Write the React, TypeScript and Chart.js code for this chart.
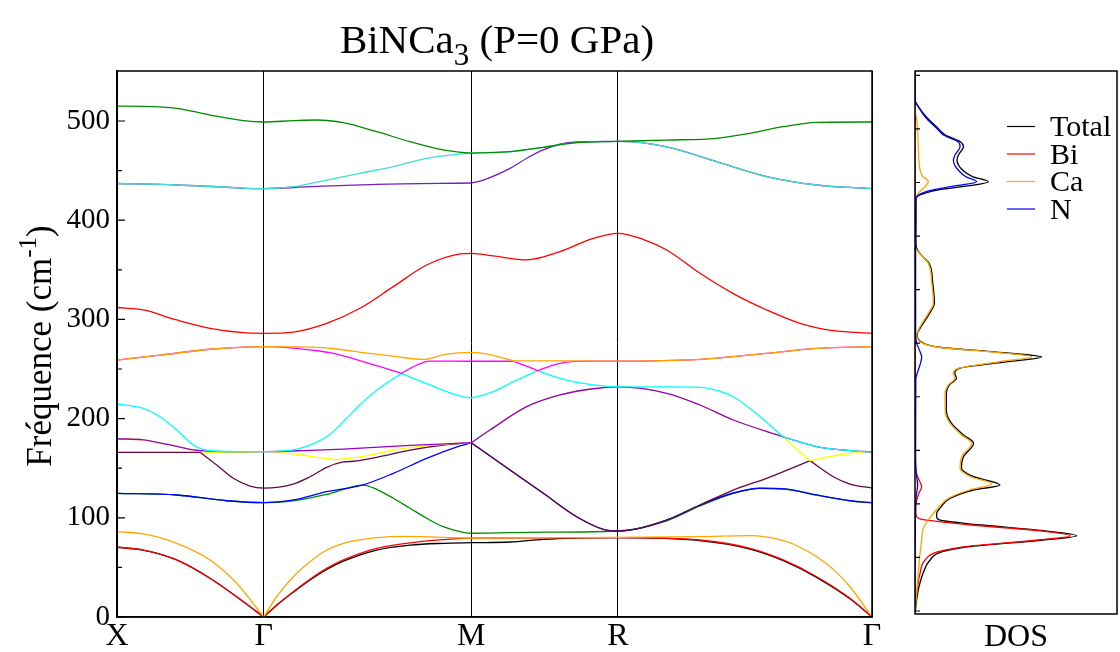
import React, { useEffect, useRef } from 'react';
import { Chart, registerables } from 'chart.js';

Chart.register(...registerables);

const FONT = '"Liberation Serif", "Times New Roman", serif';

// High-symmetry path (k distance, 2π/a units)
const HS_K = [0, 0.5, 1.2071, 1.7071, 2.5731];
const HS_LABELS = ['X', 'Γ', 'M', 'R', 'Γ'];
const FREQ_TICKS = [0, 100, 200, 300, 400, 500];
const FREQ_MINOR = [50, 150, 250, 350, 450];
const DOS_TICKS = [6, 60, 114, 168, 222, 276, 330, 384, 438, 492, 546];

const BAND_COLORS = [
  '#000000', '#ff0000', '#ffa500', '#008b00', '#0000ff',
  '#670748', '#ffff00', '#9400d3', '#00ffff', '#ff00ff',
  '#ffa500', '#ff0000', '#7221bc', '#40e0d0', '#008b00',
];

// Each band: list of smooth pieces (split only at kinks), each a list of [k, frequency (cm-1)]
const band01 = [
  [[0, 70.3], [0.0897, 67.5], [0.2034, 57.5], [0.317, 39], [0.4306, 15.4], [0.5, 0]],
  [[0.5, 0], [0.5442, 11.8], [0.601, 25], [0.6578, 37.3], [0.7147, 48], [0.7714, 56.3], [0.8851, 67.5], [0.9986, 72.5], [1.1121, 74.3], [1.2071, 74.9], [1.3394, 75.6], [1.4529, 78.3], [1.5667, 79.6], [1.7071, 80], [1.9869, 77], [2.1573, 68.5], [2.2708, 56.8], [2.3846, 40], [2.4981, 18.3], [2.5731, 0]],
];
const band02 = [
  [[0, 70.3], [0.0897, 67.5], [0.2034, 57.5], [0.317, 39], [0.4306, 15.4], [0.5, 0]],
  [[0.5, 0], [0.5442, 12.1], [0.601, 25.5], [0.6578, 38], [0.7147, 49], [0.7714, 57.5], [0.8851, 69.2], [0.9986, 74.8], [1.1121, 78], [1.2071, 79.6], [1.4529, 79.8], [1.7071, 80], [1.9869, 77.6], [2.1573, 69.2], [2.2708, 57.5], [2.3846, 40.6], [2.4981, 18.8], [2.5731, 0]],
];
const band03 = [
  [[0, 86], [0.0897, 83.7], [0.2034, 74.3], [0.317, 57.5], [0.4079, 34], [0.5, 0]],
  [[0.5, 0], [0.5442, 20.5], [0.601, 40.6], [0.6578, 55.7], [0.7147, 67.5], [0.7714, 74.3], [0.8851, 80], [0.9986, 81.3], [1.1121, 80.3], [1.2071, 79.6], [1.4529, 80], [1.7071, 80.2], [1.9869, 81], [2.1573, 82], [2.2708, 76.9], [2.3278, 70.3], [2.3846, 60.8], [2.4412, 48], [2.4981, 30.5], [2.5731, 0]],
];
const band04 = [
  [[0, 124.7], [0.2034, 123], [0.3738, 117.2], [0.5, 115.2], [0.601, 117.2], [0.7147, 123.7], [0.8394, 133], [0.8851, 128.7], [0.9417, 119.7], [0.9986, 109.6], [1.0555, 99.5], [1.1121, 91], [1.169, 86], [1.2071, 84.4], [1.4529, 85.5], [1.7071, 86.7], [1.8735, 97], [1.9869, 112], [2.1004, 124.7], [2.1914, 129.6], [2.2822, 128.8], [2.3846, 122.8], [2.4981, 117], [2.5731, 115]],
];
const band05 = [
  [[0, 124.7], [0.2034, 123], [0.3738, 117.2], [0.5, 115.2], [0.601, 118], [0.7147, 126.3], [0.8394, 133.3], [0.9417, 144.8], [1.0555, 160], [1.169, 172.4], [1.2071, 175.7]],
  [[1.2071, 175.7], [1.3394, 148.2], [1.4529, 124.7], [1.5667, 101.1], [1.6574, 88.4], [1.7071, 86.7], [1.8735, 97.8], [1.9869, 112.9], [2.1004, 125], [2.1914, 129.8], [2.2822, 129], [2.3846, 123], [2.4981, 117.2], [2.5731, 115.2]],
];
const band06 = [
  [[0, 166], [0.1466, 166], [0.2829, 166]],
  [[0.2829, 166], [0.3397, 153.2], [0.3965, 139.8], [0.4533, 132], [0.5, 130], [0.601, 134], [0.6578, 141.4], [0.7147, 150.9], [0.7714, 156.3], [0.8054, 157], [0.8851, 161], [0.9986, 168.3], [1.1121, 173.4], [1.2071, 175.7]],
  [[1.2071, 175.7], [1.3394, 148.2], [1.4529, 124.7], [1.5667, 101.1], [1.6574, 88.4], [1.7071, 86.7], [1.8735, 97.8], [1.9869, 112.9], [2.1004, 128], [2.2142, 139.8], [2.2708, 146.5], [2.3618, 157.6]],
  [[2.3618, 157.6], [2.4412, 141.4], [2.4981, 134], [2.5731, 130]],
];
const band07 = [
  [[0, 179.7], [0.0897, 178.5], [0.1466, 175.5], [0.2034, 172], [0.2602, 168.5], [0.2829, 167.2], [0.317, 165.8], [0.4306, 165.8], [0.5, 166.7], [0.601, 164.5], [0.6578, 162], [0.749, 158.5]],
  [[0.749, 158.5], [0.8394, 162], [0.9532, 168.8], [1.1121, 174], [1.2071, 175.7]],
  [[1.2071, 175.7], [1.2712, 188.5], [1.3963, 212], [1.5098, 223.8], [1.6233, 230.1], [1.7071, 231.9], [1.8735, 225.5], [1.9869, 213.7], [2.1004, 198.6], [2.2687, 181.8]],
  [[2.2687, 181.8], [2.3618, 157.6]],
  [[2.3618, 157.6], [2.4412, 162.3], [2.4981, 164.8], [2.5731, 166.7]],
];
const band08 = [
  [[0, 179.7], [0.0897, 178.5], [0.1466, 175.5], [0.2034, 172], [0.2602, 168.5], [0.2829, 167.8], [0.3738, 166.8], [0.5, 166.7], [0.6578, 168], [0.7714, 169.3], [0.9986, 173], [1.2071, 175.7]],
  [[1.2071, 175.7], [1.2712, 188.5], [1.3963, 212], [1.5098, 223.8], [1.6233, 230.1], [1.7071, 231.9], [1.8735, 225.5], [1.9869, 213.7], [2.1004, 198.6], [2.2687, 181.8]],
  [[2.2687, 181.8], [2.3846, 171.7], [2.4981, 167.7], [2.5731, 166.5]],
];
const band09 = [
  [[0, 214.7], [0.0897, 210.4], [0.1466, 201.9], [0.2034, 188.5], [0.2602, 173.4], [0.2829, 170], [0.317, 167.6], [0.4079, 166.8], [0.5, 166.7], [0.57, 167.4], [0.62, 169.8], [0.6578, 173.3], [0.69, 177.5], [0.7259, 184], [0.7543, 191.8], [0.7829, 200.3], [0.8394, 217], [0.8963, 231], [0.9703, 245.6]],
  [[0.9703, 245.6], [1.0099, 240.6], [1.0667, 233.9], [1.1236, 227.1], [1.1803, 222], [1.2071, 221], [1.2384, 223], [1.2825, 227.1], [1.3506, 237.2], [1.4338, 248.3]],
  [[1.4338, 248.3], [1.5098, 240.6], [1.5551, 237.2], [1.6233, 233.9], [1.7071, 231.9], [1.8735, 231.9], [1.9869, 231.5], [2.0438, 228.5], [2.1004, 222], [2.1914, 202], [2.2687, 181.8]],
  [[2.2687, 181.8], [2.3846, 171.7], [2.4981, 167.7], [2.5731, 166.3]],
];
const band10 = [
  [[0, 259], [0.1466, 264], [0.317, 269.9], [0.5, 272.5], [0.601, 271], [0.6578, 269.2], [0.7259, 266.4], [0.8394, 257.4], [0.9703, 245.6]],
  [[0.9703, 245.6], [1.0099, 252.3], [1.0667, 258], [1.2071, 257.8], [1.3, 257.8], [1.3506, 257.8]],
  [[1.3506, 257.8], [1.3963, 252.8], [1.4338, 248.3]],
  [[1.4338, 248.3], [1.487, 254], [1.5551, 257.6], [1.6233, 258], [1.7071, 258], [1.9869, 259.8], [2.2142, 265.8], [2.3846, 270.8], [2.5731, 272.5]],
];
const band11 = [
  [[0, 259], [0.1466, 264], [0.317, 269.9], [0.5, 272.5], [0.601, 272.3], [0.6578, 272], [0.7259, 270.9], [0.8394, 266.4], [0.9532, 262.4], [1.0441, 259.6], [1.1236, 265], [1.2071, 266.8], [1.2712, 264.5], [1.3506, 258.2]],
  [[1.3506, 258.2], [1.5098, 258.1], [1.7071, 258], [1.9869, 259.8], [2.2142, 265.8], [2.3846, 270.8], [2.5731, 272.5]],
];
const band12 = [
  [[0, 312], [0.0897, 309.5], [0.2034, 299.4], [0.317, 291], [0.4306, 286.6], [0.5, 286], [0.601, 287.2], [0.7147, 296], [0.8282, 311.2], [0.9417, 333], [1.0555, 354.8], [1.169, 366], [1.2071, 366.6], [1.2825, 364], [1.3963, 360], [1.5098, 368.3], [1.6233, 381.7], [1.7071, 386.8], [1.79, 381], [1.8735, 370], [1.9869, 346.5], [2.1004, 326], [2.2142, 309.5], [2.3278, 296], [2.4412, 288.6], [2.5731, 286]],
];
const band13 = [
  [[0, 437], [0.2034, 435.5], [0.3738, 433.2], [0.5, 431.8], [0.6578, 433.8], [0.8851, 436.2], [1.2071, 437.5]],
  [[1.2071, 437.5], [1.2484, 440.5], [1.3394, 452.3], [1.3963, 462.4], [1.4529, 470.8], [1.5098, 476.8], [1.5667, 479], [1.7071, 479.5], [1.8735, 474], [2.0438, 459], [2.2142, 444], [2.3846, 435.5], [2.5731, 431.8]],
];
const band14 = [
  [[0, 437], [0.2034, 435.5], [0.3738, 433.2], [0.5, 431.8], [0.601, 433.8], [0.7147, 440.5], [0.8282, 447.3], [0.9417, 454], [1.0555, 462.4], [1.2071, 467.7], [1.3394, 469], [1.4529, 473.5], [1.5667, 478.2], [1.7071, 479.5], [1.8735, 474], [2.0438, 459], [2.2142, 444], [2.3846, 435.5], [2.5731, 431.8]],
];
const band15 = [
  [[0, 515], [0.0897, 514.8], [0.2034, 512.8], [0.317, 506], [0.4306, 500.3], [0.5, 499], [0.601, 500.3], [0.6806, 501], [0.7714, 498.3], [0.8851, 489.2], [0.9986, 479.2], [1.1121, 470.8], [1.2071, 467.7], [1.3394, 469.1], [1.4529, 473.5], [1.5667, 478.2], [1.7071, 479.5], [1.8735, 480.8], [2.0438, 482.5], [2.1573, 487.6], [2.2708, 494.3], [2.3846, 498.7], [2.5731, 499]],
];
const BANDS = [band01, band02, band03, band04, band05, band06, band07, band08, band09, band10, band11, band12, band13, band14, band15];

// DOS: [frequency (cm-1), DOS (arb. units)]
const DOS_TOTAL = [
  [3, 0], [17, 0.8], [30.5, 2], [44, 4], [57.5, 7.5], [65.8, 13.5], [71.6, 30], [77.6, 63.5], [82, 80], [87, 63.5], [92.7, 33], [97.8, 12], [101, 10.7], [105, 10.8], [110, 12.5], [119.7, 17.5], [128, 29], [133.1, 42.1], [141.4, 29], [149.9, 23], [161.6, 24], [175.1, 29], [183.5, 24], [195.3, 18], [208.7, 15.5], [225.5, 15.5], [233.9, 17], [240.6, 20.5], [245.7, 19.7], [250.7, 22], [257.4, 46], [262, 62.7], [267.4, 38], [271.9, 12], [277.5, 3], [284.3, 1], [292.6, 3], [306.1, 7.2], [316.2, 9.6], [336.4, 8.8], [356.5, 7], [365, 3], [372, 0.8], [380, 0.4], [400, 0.5], [421, 0.5], [425.4, 2.5], [430.4, 11], [434.5, 26], [438.8, 36.3], [444, 28.5], [450.6, 23.5], [460.7, 20.8], [465.7, 21.5], [474.1, 24], [479.1, 22.5], [485.9, 15], [489.2, 13], [492.6, 11.5], [504.3, 5.5], [515, 1.5], [521, 0], [550, 0],
];
const DOS_BI = [
  [3, 0], [17.1, 0.3], [30.5, 1.3], [44, 2.5], [57.5, 5], [65.8, 11.5], [71.6, 28.1], [77.6, 61], [82, 76.7], [87, 61], [92.7, 28.1], [97.8, 5], [101.1, 0.8], [108, 0.3], [114.6, 0.5], [125, 2], [131.4, 3.3], [138, 2], [146.5, 0.5], [160, 0.2], [250, 0.1], [550, 0],
];
const DOS_CA = [
  [3, 0], [24, 0.8], [44, 1.6], [64.2, 2.5], [77.6, 3.3], [89.4, 4.1], [97.8, 6.6], [107.9, 10.5], [119.7, 16.5], [128, 27], [134.1, 38], [141.4, 27.5], [149.9, 22.3], [161.6, 23.1], [175.1, 28.1], [183.5, 23.1], [195.3, 17.3], [208.7, 14.9], [225.5, 14.9], [233.9, 16.5], [240.6, 19.8], [245.7, 19], [250.7, 21.4], [257.4, 42], [262.4, 57.8], [267.4, 36.3], [271.9, 11.5], [277.5, 2.5], [284.3, 0.8], [292.6, 2.5], [306.1, 6.6], [316.2, 9.1], [336.4, 8.3], [356.5, 6.6], [365, 3], [372, 0.3], [380, 0], [420, 0], [427, 1.6], [433, 4.5], [438.8, 6.6], [445, 3.5], [450.6, 2.5], [477.5, 1.6], [500, 1], [512, 0], [550, 0],
];
const DOS_N = [
  [3, 0], [100, 0.2], [122, 0.6], [133, 1.3], [145, 0.6], [160, 0.3], [240, 0.4], [247, 1.3], [262, 3.3], [270, 2], [276, 0.8], [285, 0.3], [330, 0.3], [410, 0.3], [421, 0.4], [425.4, 1.7], [430.4, 8.3], [434.5, 19.8], [438.8, 30.5], [444, 25], [450.6, 21.4], [455, 19.8], [460.7, 19], [465.7, 19.8], [474.1, 22.3], [479.1, 21.4], [485.9, 14], [489.2, 12.4], [492.6, 10.7], [504.3, 5], [515, 1.5], [521, 0], [550, 0],
];
const DOS_SERIES = [DOS_TOTAL, DOS_BI, DOS_CA, DOS_N];
const DOS_NAMES = ['Total', 'Bi', 'Ca', 'N'];
const DOS_COLORS = ['#000000', '#ff0000', '#ffa500', '#0000ff'];

function drawParts(ctx: CanvasRenderingContext2D, parts: [string, number, number][], cx: number, baseY: number) {
  let total = 0;
  parts.forEach(([t, s]) => { ctx.font = `${s}px ${FONT}`; total += ctx.measureText(t).width; });
  let x = cx - total / 2;
  parts.forEach(([t, s, dy]) => {
    ctx.font = `${s}px ${FONT}`;
    ctx.fillText(t, x, baseY + dy);
    x += ctx.measureText(t).width;
  });
}

const mainDecor = {
  id: 'mainDecor',
  afterDraw(chart: any) {
    const { ctx, chartArea: a, scales } = chart;
    const ys = scales.y;
    ctx.save();
    ctx.strokeStyle = '#000';
    ctx.lineWidth = 1.5;
    ctx.strokeRect(a.left, a.top, a.right - a.left, a.bottom - a.top);
    ctx.lineWidth = 1.2;
    ctx.beginPath();
    FREQ_TICKS.forEach((v) => { const y = ys.getPixelForValue(v); ctx.moveTo(a.left, y); ctx.lineTo(a.left + 8, y); });
    FREQ_MINOR.forEach((v) => { const y = ys.getPixelForValue(v); ctx.moveTo(a.left, y); ctx.lineTo(a.left + 5, y); });
    ctx.stroke();
    ctx.fillStyle = '#000';
    ctx.textBaseline = 'alphabetic';
    ctx.textAlign = 'left';
    drawParts(ctx, [['BiNCa', 41, 0], ['3', 31, 12], [' (P=0 GPa)', 41, 0]], 497, 53);
    ctx.save();
    ctx.translate(51, 346);
    ctx.rotate(-Math.PI / 2);
    drawParts(ctx, [['Fréquence (cm', 35, 0], ['-1', 25, -15], [')', 35, 0]], 0, 0);
    ctx.restore();
    ctx.restore();
  },
};

const dosDecor = {
  id: 'dosDecor',
  afterDraw(chart: any) {
    const { ctx, chartArea: a, scales } = chart;
    const ys = scales.y;
    ctx.save();
    ctx.strokeStyle = '#000';
    ctx.lineWidth = 1.5;
    ctx.strokeRect(a.left, a.top, a.right - a.left, a.bottom - a.top);
    ctx.lineWidth = 1.2;
    ctx.beginPath();
    DOS_TICKS.forEach((v) => { const y = ys.getPixelForValue(v); ctx.moveTo(a.left, y); ctx.lineTo(a.left + 5, y); });
    ctx.stroke();
    ctx.textBaseline = 'alphabetic';
    ctx.textAlign = 'left';
    ctx.font = `30px ${FONT}`;
    DOS_NAMES.forEach((name, i) => {
      const base = 136 + i * 27.5;
      ctx.strokeStyle = DOS_COLORS[i];
      ctx.lineWidth = 1.2;
      ctx.beginPath();
      ctx.moveTo(1007 - 895, base - 9.5);
      ctx.lineTo(1035 - 895, base - 9.5);
      ctx.stroke();
      ctx.fillStyle = '#000';
      ctx.fillText(name, 1050 - 895, base);
    });
    ctx.font = `32px ${FONT}`;
    ctx.textAlign = 'center';
    ctx.fillText('DOS', (a.left + a.right) / 2, 646);
    ctx.restore();
  },
};

function mainConfig(): any {
  const datasets: any[] = [];
  BANDS.forEach((band, i) => {
    band.forEach((piece) => {
      datasets.push({
        data: piece.map(([k, f]) => ({ x: k, y: f })),
        borderColor: BAND_COLORS[i],
        borderWidth: 1.3,
        pointRadius: 0,
        showLine: true,
        fill: false,
        cubicInterpolationMode: 'monotone',
        order: BANDS.length - i,
      });
    });
  });
  return {
    type: 'scatter',
    data: { datasets },
    options: {
      responsive: false,
      animation: false,
      devicePixelRatio: 1,
      events: [],
      layout: { padding: { top: 71, right: 23, left: 0, bottom: 0 } },
      plugins: { legend: { display: false }, tooltip: { enabled: false }, title: { display: false } },
      scales: {
        x: {
          type: 'linear',
          min: HS_K[0],
          max: HS_K[HS_K.length - 1],
          afterFit: (s: any) => { s.height = 35; },
          afterBuildTicks: (s: any) => { s.ticks = HS_K.map((v) => ({ value: v })); },
          ticks: {
            callback: (_v: any, i: number) => HS_LABELS[i],
            font: { family: FONT, size: 32 },
            color: '#000',
            padding: 0,
            autoSkip: false,
            maxRotation: 0,
            minRotation: 0,
          },
          grid: { color: '#000', lineWidth: 1, drawTicks: false },
          border: { display: true, color: '#000', width: 1.5 },
        },
        y: {
          type: 'linear',
          min: 0,
          max: 550.4,
          afterFit: (s: any) => { s.width = 117; },
          afterBuildTicks: (s: any) => { s.ticks = FREQ_TICKS.map((v) => ({ value: v })); },
          ticks: { font: { family: FONT, size: 29 }, color: '#000', padding: 7 },
          grid: { display: false, drawTicks: false },
          border: { display: true, color: '#000', width: 1.5 },
        },
      },
    },
    plugins: [mainDecor],
  };
}

function dosConfig(): any {
  const datasets = DOS_SERIES.map((s, i) => ({
    data: s.map(([f, d]) => ({ x: d, y: f })),
    borderColor: DOS_COLORS[i],
    borderWidth: 1.3,
    pointRadius: 0,
    showLine: true,
    fill: false,
    cubicInterpolationMode: 'monotone',
    order: DOS_SERIES.length - i,
  }));
  return {
    type: 'scatter',
    data: { datasets },
    options: {
      indexAxis: 'y',
      responsive: false,
      animation: false,
      devicePixelRatio: 1,
      events: [],
      layout: { padding: { top: 71, right: 3, left: 20, bottom: 38 } },
      plugins: { legend: { display: false }, tooltip: { enabled: false }, title: { display: false } },
      scales: {
        x: { type: 'linear', min: 0, max: 100, display: false },
        y: { type: 'linear', min: 3.0, max: 550.4, display: false },
      },
    },
    plugins: [dosDecor],
  };
}

export default function App() {
  const mainRef = useRef<HTMLCanvasElement>(null);
  const dosRef = useRef<HTMLCanvasElement>(null);
  useEffect(() => {
    const c1 = new Chart(mainRef.current as HTMLCanvasElement, mainConfig());
    const c2 = new Chart(dosRef.current as HTMLCanvasElement, dosConfig());
    return () => { c1.destroy(); c2.destroy(); };
  }, []);
  return (
    <div style={{ position: 'absolute', left: 0, top: 0, width: 1120, height: 652, background: '#fff', overflow: 'hidden' }}>
      <canvas ref={mainRef} width={895} height={652} style={{ position: 'absolute', left: 0, top: 0, width: 895, height: 652 }} />
      <canvas ref={dosRef} width={225} height={652} style={{ position: 'absolute', left: 895, top: 0, width: 225, height: 652 }} />
    </div>
  );
}
